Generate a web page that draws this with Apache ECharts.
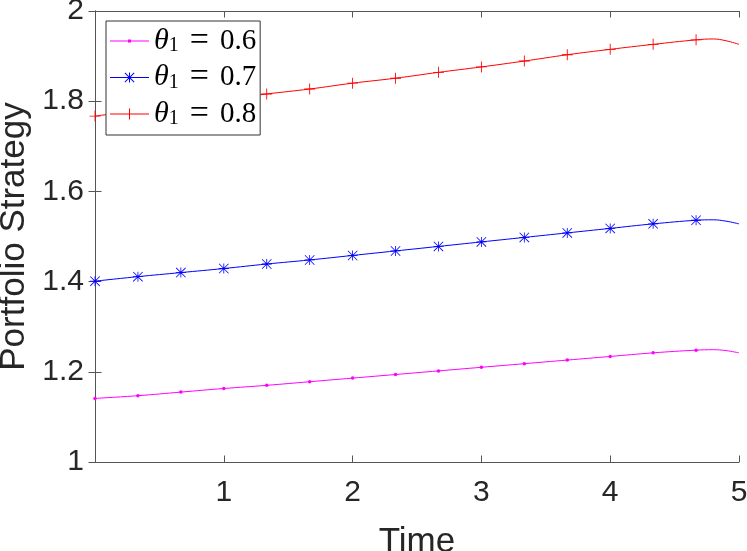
<!DOCTYPE html>
<html>
<head>
<meta charset="utf-8">
<script src="https://cdn.jsdelivr.net/npm/echarts@6/dist/echarts.min.js"></script>
<style>
html, body { margin: 0; padding: 0; background: #fff; }
#main { width: 747px; height: 551px; }
</style>
</head>
<body>
<div id="main"></div>
<script>
// sample times (first 15 carry a marker, last ones only shape the curve end)
var times = [0, 0.3333, 0.6667, 1, 1.3333, 1.6667, 2, 2.3333, 2.6667, 3, 3.3333, 3.6667, 4, 4.3333, 4.6667, 4.8, 4.9, 5];
var markedCount = 15;

var theta06 = [1.141, 1.147, 1.155, 1.163, 1.170, 1.178, 1.186, 1.194, 1.202, 1.210, 1.218, 1.226, 1.234, 1.242, 1.248, 1.249, 1.247, 1.242];
var theta07 = [1.401, 1.411, 1.420, 1.429, 1.439, 1.448, 1.458, 1.468, 1.478, 1.488, 1.498, 1.508, 1.518, 1.528, 1.536, 1.537, 1.534, 1.528];
var theta08 = [1.767, 1.779, 1.791, 1.804, 1.816, 1.827, 1.840, 1.851, 1.864, 1.876, 1.889, 1.903, 1.915, 1.926, 1.936, 1.938, 1.934, 1.926];

var seriesNames = ["theta 0.6", "theta 0.7", "theta 0.8"];
var thetaValues = ["0.6", "0.7", "0.8"];
var colors = ["#ff00ff", "#0000ff", "#ff0000"];

var AXIS_COLOR = "#555";
var TEXT_COLOR = "#262626";

// marker shapes
var plusPath = "path://M9.2,0H10.8V9.2H20V10.8H10.8V20H9.2V10.8H0V9.2H9.2Z";
var starPath = "path://M9.2,0H10.8V9.2H20V10.8H10.8V20H9.2V10.8H0V9.2H9.2Z" +
	"M0,1.1L1.1,0L20,18.9L18.9,20Z" +
	"M18.9,0L20,1.1L1.1,20L0,18.9Z";

// legend samples: a line with the marker in the middle (box 39 x 14)
var legendIcons = [
	"path://M0,0M39,14M0,6.5H39V7.5H0Z M18,5.5H21V8.5H18Z",
	"path://M0,0M39,14M0,6.5H39V7.5H0Z" +
		"M19,2H20V6.5H24.5V7.5H20V12H19V7.5H14.5V6.5H19Z" +
		"M14.5,2.7L15.2,2L24.5,11.3L23.8,12Z" +
		"M23.8,2L24.5,2.7L15.2,12L14.5,11.3Z",
	"path://M0,0M39,14M0,6.5H39V7.5H0Z" +
		"M19,1.5H20V6.5H25V7.5H20V12.5H19V7.5H14V6.5H19Z"
];

function buildData(values){
	var out = [];
	for (var i = 0; i < times.length; i++) {
		var item = {value: [times[i], values[i]]};
		if (i >= markedCount) item.symbol = "none";
		out.push(item);
	}
	return out;
}

function makeSeries(idx, values, symbol, size){
	return {
		name: seriesNames[idx],
		type: "line",
		data: buildData(values),
		smooth: 0.4,
		symbol: symbol,
		symbolSize: size,
		showAllSymbol: true,
		lineStyle: {color: colors[idx], width: 1},
		itemStyle: {color: colors[idx], borderWidth: 0},
		emphasis: {disabled: true},
		z: 3
	};
}

function axisLabel(margin, fmt){
	return {
		show: true,
		margin: margin,
		fontFamily: "Liberation Sans",
		fontSize: 30,
		color: TEXT_COLOR,
		formatter: fmt
	};
}

var chart = echarts.init(document.getElementById("main"), null, {renderer: "canvas"});
chart.setOption({
	animation: false,
	backgroundColor: "#fff",
	grid: {left: 95, right: 8, top: 11, bottom: 89, containLabel: false, outerBoundsMode: "none"},
	legend: {
		orient: "vertical",
		left: 106,
		top: 21,
		padding: [3, 4, 4, 4],
		itemGap: 2.5,
		itemWidth: 39,
		itemHeight: 14,
		backgroundColor: "#fff",
		borderColor: "#333",
		borderWidth: 1,
		borderRadius: 0,
		selectedMode: false,
		data: seriesNames.map(function(n, i){ return {name: n, icon: legendIcons[i]}; }),
		formatter: function(name){
			return "{th|θ}{sub|1}{eq|=}{num|" + thetaValues[seriesNames.indexOf(name)] + "}";
		},
		textStyle: {
			color: "#000",
			fontFamily: "Liberation Serif",
			fontSize: 28,
			lineHeight: 30,
			rich: {
				th: {fontFamily: "Liberation Serif", fontStyle: "italic", fontSize: 30, lineHeight: 30, color: "#000"},
				sub: {fontFamily: "Liberation Serif", fontSize: 20, lineHeight: 18, verticalAlign: "bottom", color: "#000"},
				eq: {fontFamily: "Liberation Serif", fontSize: 34, lineHeight: 30, padding: [0, 11, 0, 11], color: "#000"},
				num: {fontFamily: "Liberation Serif", fontSize: 29, lineHeight: 30, color: "#000"}
			}
		}
	},
	xAxis: [{
		type: "value",
		min: 0, max: 5, interval: 1,
		position: "bottom",
		name: "Time",
		nameLocation: "middle",
		nameGap: 63,
		nameTextStyle: {fontFamily: "Liberation Sans", fontSize: 35, color: TEXT_COLOR},
		axisLine: {show: true, lineStyle: {color: AXIS_COLOR, width: 1}},
		axisTick: {show: true, inside: true, length: 6.5, lineStyle: {color: AXIS_COLOR, width: 1}},
		axisLabel: axisLabel(16, function(v){ return v === 0 ? "" : String(v); }),
		splitLine: {show: false}
	}, {
		type: "value",
		min: 0, max: 5, interval: 1,
		position: "top",
		axisLine: {show: true, lineStyle: {color: AXIS_COLOR, width: 1}},
		axisTick: {show: true, inside: true, length: 6.5, lineStyle: {color: AXIS_COLOR, width: 1}},
		axisLabel: {show: false},
		splitLine: {show: false}
	}],
	yAxis: [{
		type: "value",
		min: 1, max: 2, interval: 0.2,
		position: "left",
		name: "Portfolio Strategy",
		nameLocation: "middle",
		nameGap: 61,
		nameTextStyle: {fontFamily: "Liberation Sans", fontSize: 35, color: TEXT_COLOR},
		axisLine: {show: true, lineStyle: {color: AXIS_COLOR, width: 1}},
		axisTick: {show: true, inside: true, length: 6.5, lineStyle: {color: AXIS_COLOR, width: 1}},
		axisLabel: axisLabel(11, function(v){ return String(Number(v.toFixed(1))); }),
		splitLine: {show: false}
	}, {
		type: "value",
		min: 1, max: 2, interval: 0.2,
		position: "right",
		axisLine: {show: true, lineStyle: {color: AXIS_COLOR, width: 1}},
		axisTick: {show: true, inside: true, length: 6.5, lineStyle: {color: AXIS_COLOR, width: 1}},
		axisLabel: {show: false},
		splitLine: {show: false}
	}],
	series: [
		makeSeries(0, theta06, "circle", 3.5),
		makeSeries(1, theta07, starPath, 10),
		makeSeries(2, theta08, plusPath, 11)
	]
});
</script>
</body>
</html>
